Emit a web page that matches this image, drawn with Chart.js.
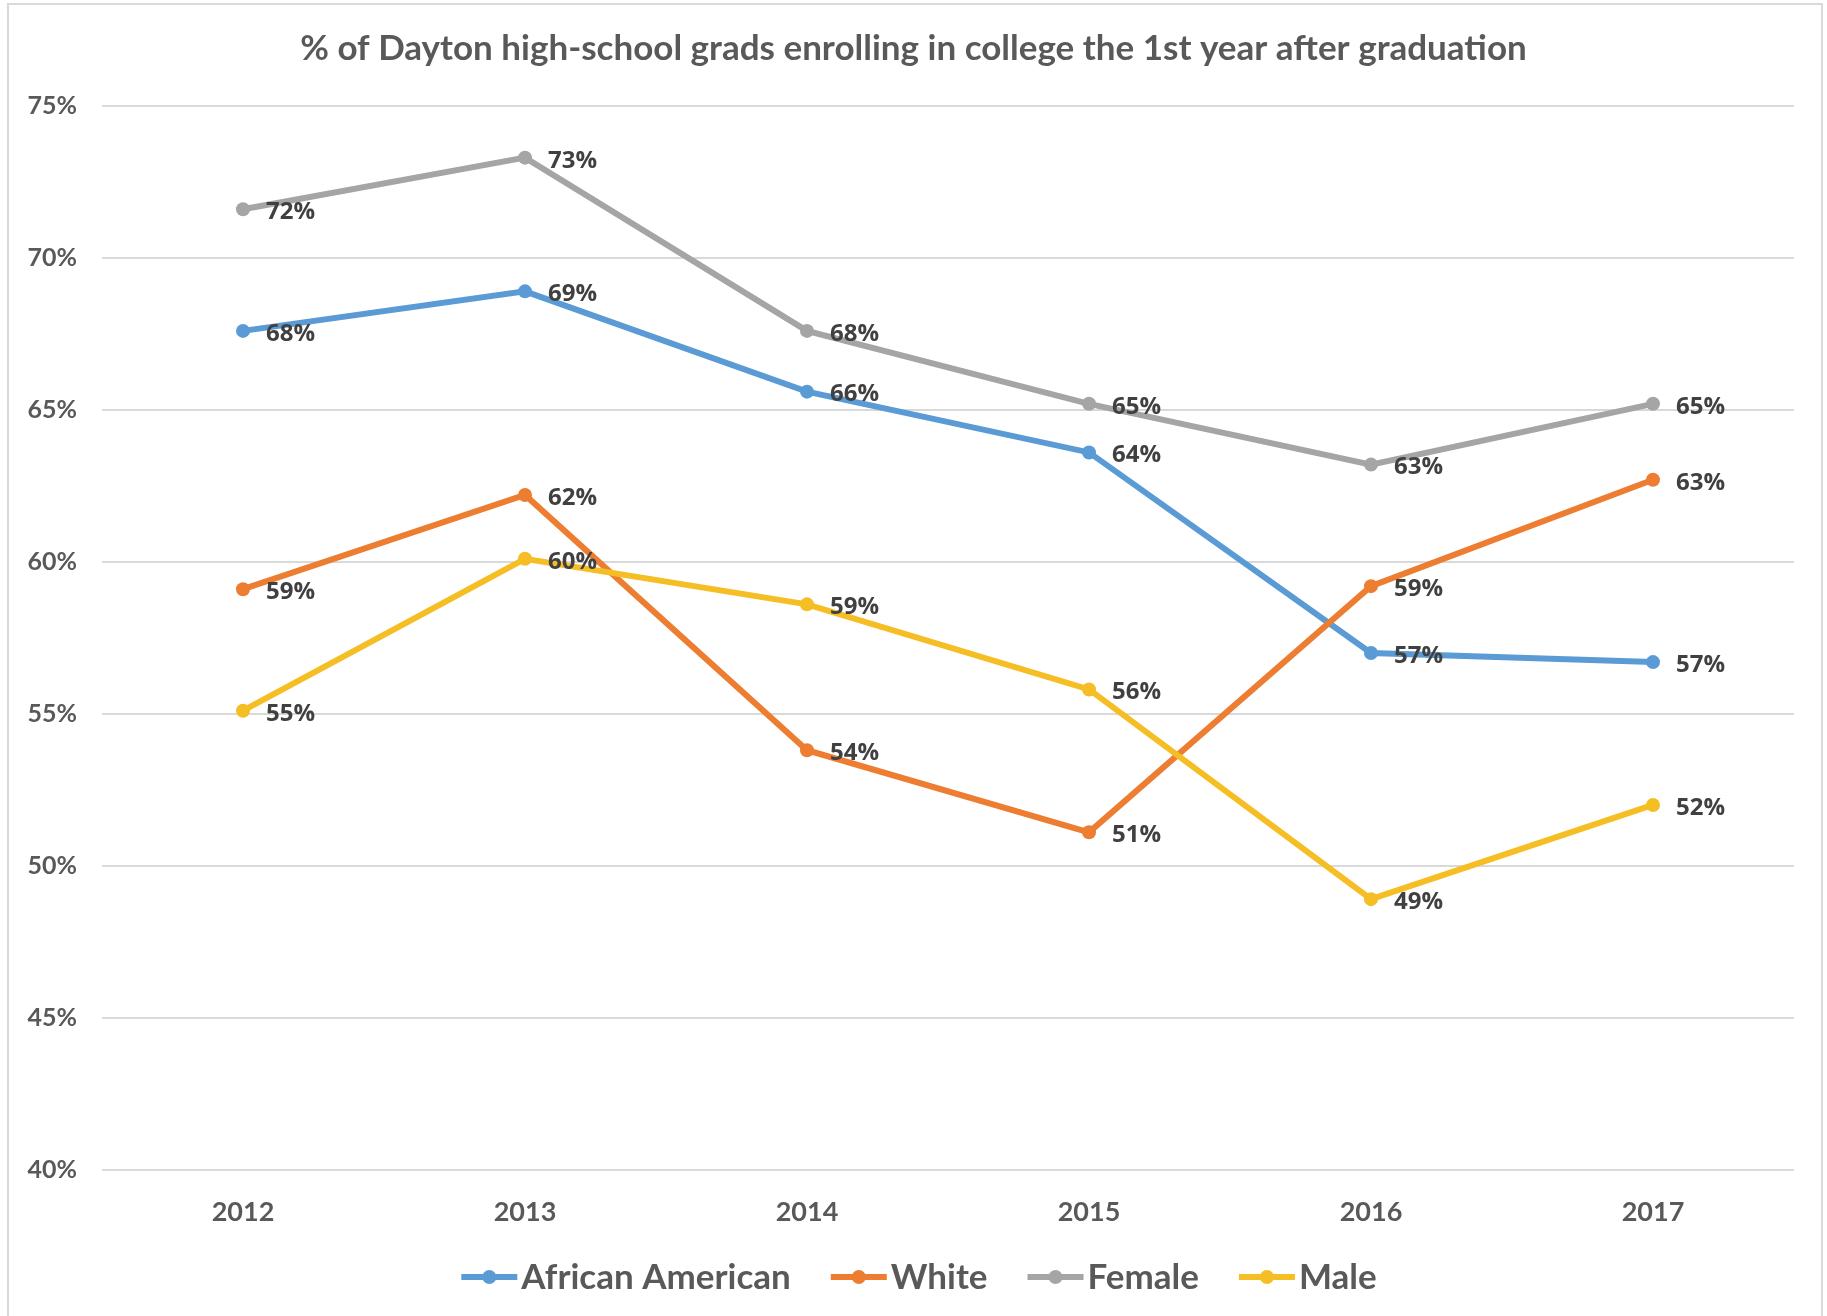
<!DOCTYPE html>
<html>
<head>
<meta charset="utf-8">
<script src="https://cdn.jsdelivr.net/npm/chart.js@4.4.1/dist/chart.umd.min.js"></script>
<style>
  html, body { margin: 0; padding: 0; background: #fff; }
  #frame { position: absolute; left: 7px; top: 3px; width: 1816px; height: 1400px;
           border: 2px solid #d9d9d9; box-sizing: border-box; }
  #chart { position: absolute; left: 0; top: 0; }
</style>
</head>
<body>
<div id="frame"></div>
<canvas id="chart" width="1827" height="1316"></canvas>
<script>
// ── Data ─────────────────────────────────────────────────────────
const years           = ["2012", "2013", "2014", "2015", "2016", "2017"];
const africanAmerican = [67.6, 68.9, 65.6, 63.6, 57.0, 56.7];
const white           = [59.1, 62.2, 53.8, 51.1, 59.2, 62.7];
const female          = [71.6, 73.3, 67.6, 65.2, 63.2, 65.2];
const male            = [55.1, 60.1, 58.6, 55.8, 48.9, 52.0];
const seriesNames     = ["African American", "White", "Female", "Male"];
const seriesColors    = ["#5B9BD5", "#ED7D31", "#A5A5A5", "#F6BE25"];
const yMin = 40, yMax = 75, yStep = 5;

const TXT = "#595959";

function series(i, values) {
    return {
        label:            seriesNames[i],
        data:             values,
        borderColor:      seriesColors[i],
        backgroundColor:  seriesColors[i],
        borderWidth:      6,
        pointRadius:      7,
        pointHoverRadius: 7,
        pointBorderWidth: 0,
        tension:          0,
        yAxisID:          "y",
        order:            4 - i,   // later series on top, like Excel
    };
}

// ── Data labels next to each point ───────────────────────────────
const pointLabels = {
    id: "pointLabels",
    afterDatasetsDraw(chart) {
        const ctx = chart.ctx;
        ctx.save();
        ctx.font = "bold 24px 'Open Sans'";
        ctx.fillStyle = "#404040";
        ctx.textAlign = "left";
        ctx.textBaseline = "middle";
        chart.data.datasets.forEach((ds, i) => {
            chart.getDatasetMeta(i).data.forEach((pt, j) => {
                ctx.fillText(Math.round(ds.data[j]) + "%", pt.x + 23, pt.y + 3);
            });
        });
        ctx.restore();
    }
};

// ── Legend: line + dot swatches, centred under the plot ──────────
const lineLegend = {
    id: "lineLegend",
    afterDraw(chart) {
        const ctx = chart.ctx;
        const sw = 56, gapText = 4, gapItem = 40, cy = 1277;
        ctx.save();
        ctx.font = "bold 35px Lato";
        const items = chart.data.datasets.map(ds => ({
            text: ds.label, color: ds.borderColor,
            w: sw + gapText + ctx.measureText(ds.label).width
        }));
        const total = items.reduce((a, it) => a + it.w, 0) + gapItem * (items.length - 1);
        let x = 919 - total / 2;
        items.forEach(it => {
            ctx.strokeStyle = it.color;
            ctx.lineWidth = 6;
            ctx.beginPath();
            ctx.moveTo(x, cy);
            ctx.lineTo(x + sw, cy);
            ctx.stroke();
            ctx.fillStyle = it.color;
            ctx.beginPath();
            ctx.arc(x + sw / 2, cy, 7, 0, Math.PI * 2);
            ctx.fill();
            ctx.fillStyle = TXT;
            ctx.textBaseline = "middle";
            ctx.fillText(it.text, x + sw + gapText, cy + 1);
            x += it.w + gapItem;
        });
        ctx.restore();
    }
};

new Chart(document.getElementById("chart"), {
    type: "line",
    data: {
        labels: years,
        datasets: [
            series(0, africanAmerican),
            series(1, white),
            series(2, female),
            series(3, male),
        ]
    },
    options: {
        responsive: false,
        animation:  false,
        layout: { padding: { top: 10, left: 0, right: 0, bottom: 62 } },
        plugins: {
            legend:  { display: false },
            tooltip: { enabled: false },
            title: {
                display: true,
                text:    "% of Dayton high-school grads enrolling in college the 1st year after graduation",
                color:   TXT,
                font:    { family: "Lato", size: 35, weight: "bold" },
                padding: { top: 18, bottom: 36 },
            }
        },
        scales: {
            x: {
                offset: true,
                grid:   { display: false, drawTicks: false },
                border: { display: false },
                ticks:  { color: TXT, font: { family: "Lato", size: 27, weight: "bold" }, padding: 26 },
            },
            y: {
                min: yMin,
                max: yMax,
                grid:   { color: "#d9d9d9", lineWidth: 2, drawTicks: false },
                border: { display: false },
                ticks:  {
                    stepSize: yStep,
                    color:    TXT,
                    font:     { family: "Lato", size: 25, weight: "bold" },
                    padding:  25,
                    callback: v => v + "%",
                },
                afterFit: s => { s.width = 102; },
            },
            // empty right-hand margin so the title centres on the whole frame
            yRight: {
                position: "right",
                grid:     { display: false, drawTicks: false },
                border:   { display: false },
                ticks:    { display: false },
                afterFit: s => { s.width = 33; },
            }
        }
    },
    plugins: [pointLabels, lineLegend]
});
</script>
</body>
</html>
